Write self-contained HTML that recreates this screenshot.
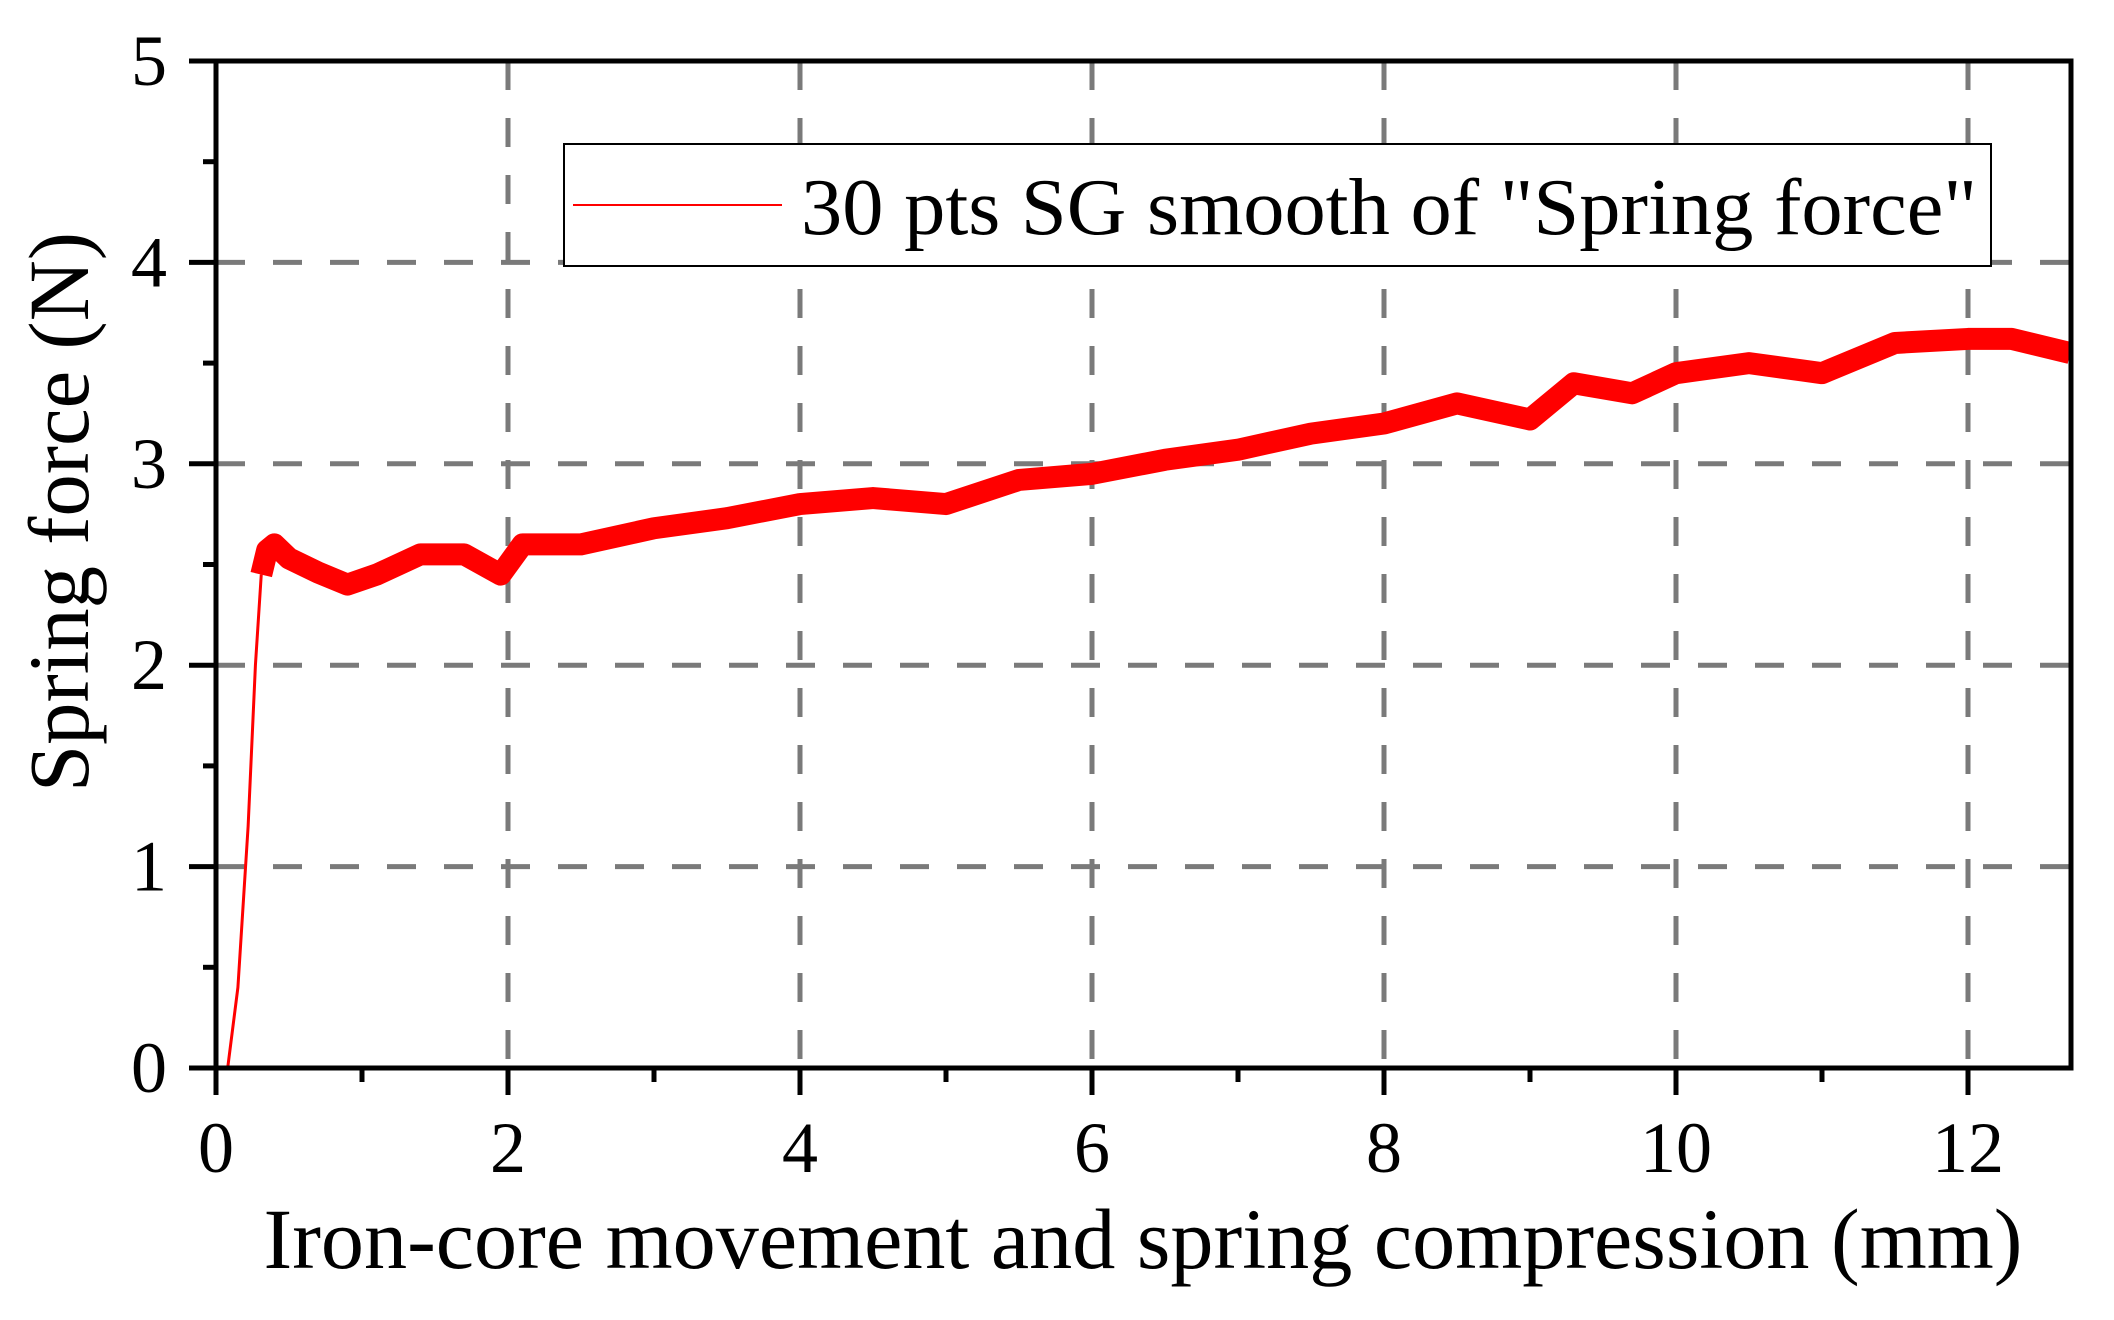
<!DOCTYPE html>
<html><head><meta charset="utf-8"><style>
html,body{margin:0;padding:0;background:#fff;}
svg{display:block;}
text{font-family:"Liberation Serif",serif;fill:#000;}
</style></head><body>
<svg id="chart" width="2114" height="1320" viewBox="0 0 2114 1320" xmlns="http://www.w3.org/2000/svg">
<g id="grid"></g>
<path id="series" fill="none" stroke="#ff0000" stroke-width="22" stroke-linejoin="round"></path>
<path id="series-start" fill="none" stroke="#ff0000" stroke-width="3"></path>
<g id="axes"></g>
<g>
<rect x="564" y="144" width="1427" height="122" fill="#fff" stroke="#000" stroke-width="2"/>
<line x1="573" y1="205" x2="782" y2="205" stroke="#ff0000" stroke-width="2"/>
<text x="801" y="234" font-size="80" textLength="1176" lengthAdjust="spacingAndGlyphs">30 pts SG smooth of "Spring force"</text>
</g>
<text transform="translate(88,512) rotate(-90)" text-anchor="middle" font-size="86" textLength="560" lengthAdjust="spacingAndGlyphs">Spring force (N)</text>
<text x="1143" y="1268" text-anchor="middle" font-size="86" textLength="1759" lengthAdjust="spacingAndGlyphs">Iron-core movement and spring compression (mm)</text>
</svg>
<script>
const xTicks=[0,2,4,6,8,10,12];
const yTicks=[0,1,2,3,4,5];
const xData=[0.08,0.15,0.22,0.27,0.31,0.35,0.4,0.5,0.7,0.9,1.1,1.4,1.7,1.95,2.1,2.5,3,3.5,4,4.5,5,5.5,6,6.5,7,7.5,8,8.5,9,9.3,9.7,10,10.5,11,11.5,12,12.3,12.7];
const yData=[0,0.4,1.2,2.0,2.45,2.57,2.6,2.53,2.46,2.4,2.45,2.55,2.55,2.45,2.6,2.6,2.68,2.73,2.8,2.83,2.8,2.92,2.95,3.02,3.07,3.15,3.2,3.3,3.22,3.4,3.35,3.45,3.5,3.45,3.6,3.62,3.62,3.55];
const X0=216,X1=2071,Y0=1068,Y1=61;
const sx=v=>X0+v*(1968-216)/12;
const sy=v=>Y0-v*(Y0-Y1)/5;
const NS="http://www.w3.org/2000/svg";
const grid=document.getElementById('grid'),axes=document.getElementById('axes');
function mk(tag,attrs,parent){const e=document.createElementNS(NS,tag);for(const k in attrs)e.setAttribute(k,attrs[k]);parent.appendChild(e);return e;}
xTicks.forEach(t=>{
 if(t>0){const g=mk('line',{x1:sx(t),x2:sx(t),y1:Y1,y2:Y0,stroke:'#7a7a7a','stroke-width':5,'stroke-dasharray':'29 28'},grid);
 
 }
 const tk=mk('line',{x1:sx(t),x2:sx(t),y1:Y0,y2:Y0+27,stroke:'#000','stroke-width':5},axes);
 
 
 const tx=mk('text',{x:sx(t),y:1172,'text-anchor':'middle','font-size':72},axes);tx.textContent=t;
 
 
 if(t<12){const m=mk('line',{x1:sx(t+1),x2:sx(t+1),y1:Y0,y2:Y0+14,stroke:'#000','stroke-width':5},axes);
 
 }
});
yTicks.forEach(t=>{
 if(t>0&&t<5){const g=mk('line',{x1:X0,x2:X1,y1:sy(t),y2:sy(t),stroke:'#7a7a7a','stroke-width':5,'stroke-dasharray':'29 28'},grid);
 
 }
 const tk=mk('line',{x1:X0-27,x2:X0,y1:sy(t),y2:sy(t),stroke:'#000','stroke-width':5},axes);
 
 
 const tx=mk('text',{x:167,y:sy(t)+24,'text-anchor':'end','font-size':72},axes);tx.textContent=t;
 
 
 if(t<5){const m=mk('line',{x1:X0-13,x2:X0,y1:sy(t+0.5),y2:sy(t+0.5),stroke:'#000','stroke-width':5},axes);
 
 }
});
const fr=mk('rect',{x:X0,y:Y1,width:X1-X0,height:Y0-Y1,fill:'none',stroke:'#000','stroke-width':5},axes);


let d0='';
for(let i=0;i<5;i++){d0+=(i?'L':'M')+sx(xData[i])+' '+sy(yData[i]);}
const start=4;
let d2='';
for(let i=start;i<xData.length;i++){d2+=(i>start?'L':'M')+sx(xData[i])+' '+sy(yData[i]);}
document.getElementById('series').setAttribute('d',d2);
document.getElementById('series-start').setAttribute('d',d0);
</script>
</body></html>
